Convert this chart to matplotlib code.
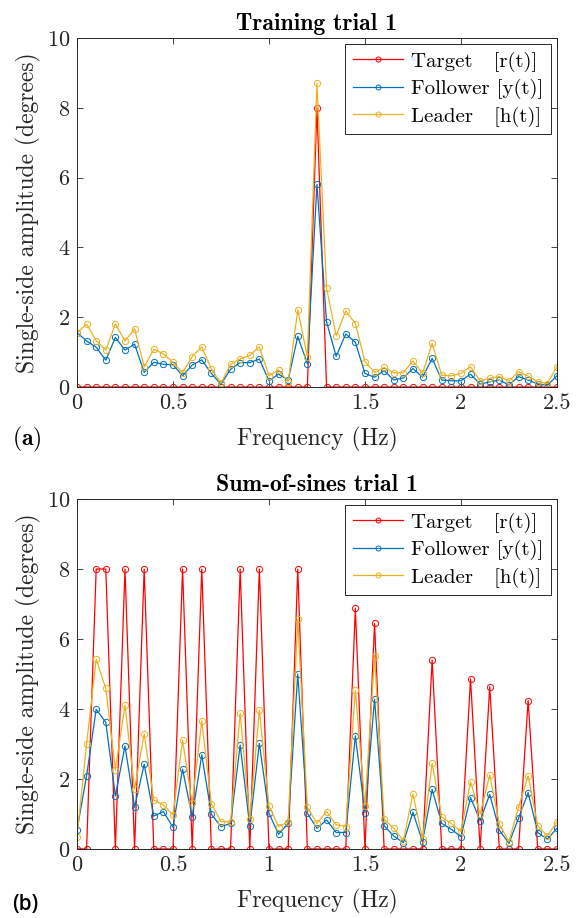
import matplotlib
matplotlib.use('Agg')
import matplotlib.pyplot as plt
import numpy as np

plt.rcParams['font.family'] = 'cmr10'
plt.rcParams['axes.formatter.use_mathtext'] = True
plt.rcParams['mathtext.fontset'] = 'cm'

freq = np.round(np.arange(51) * 0.05, 2)

# Training trial 1
train_target = [0]*25 + [8.0] + [0]*25
train_follower = [1.56, 1.32, 1.14, 0.77, 1.42, 1.06, 1.23, 0.42, 0.71, 0.65,
                  0.64, 0.32, 0.63, 0.78, 0.39, 0.08, 0.51, 0.70, 0.70, 0.80,
                  0.18, 0.37, 0.20, 1.45, 0.67, 5.81, 1.87, 0.88, 1.52, 1.28,
                  0.39, 0.28, 0.47, 0.20, 0.26, 0.53, 0.28, 0.82, 0.20, 0.18,
                  0.18, 0.37, 0.08, 0.15, 0.20, 0.06, 0.30, 0.20, 0.09, 0.05,
                  0.32]
train_leader = [1.56, 1.80, 1.33, 1.06, 1.81, 1.32, 1.67, 0.58, 1.08, 0.95,
                0.71, 0.41, 0.87, 1.15, 0.52, 0.11, 0.65, 0.80, 0.91, 1.15,
                0.32, 0.49, 0.15, 2.21, 0.87, 8.70, 2.83, 1.47, 2.18, 1.82,
                0.73, 0.42, 0.56, 0.41, 0.41, 0.75, 0.39, 1.25, 0.34, 0.32,
                0.39, 0.58, 0.18, 0.25, 0.30, 0.17, 0.44, 0.31, 0.15, 0.10,
                0.58]

# Sum-of-sines trial 1
sos_target = [0, 0, 8, 8, 0, 8, 0, 8, 0, 0,
              0, 8, 0, 8, 0, 0, 0, 8, 0, 8,
              0, 0, 0, 8, 0, 0, 0, 0, 0, 6.88,
              0, 6.45, 0, 0, 0, 0, 0, 5.40, 0, 0,
              0, 4.86, 0, 4.64, 0, 0, 0, 4.24, 0, 0,
              0]
sos_follower = [0.54, 2.09, 3.99, 3.62, 1.52, 2.94, 1.19, 2.42, 0.94, 1.07,
                0.62, 2.28, 0.92, 2.69, 0.99, 0.64, 0.73, 2.97, 0.66, 3.02,
                1.02, 0.42, 0.73, 5.00, 1.02, 0.59, 0.83, 0.47, 0.47, 3.23,
                1.04, 4.28, 0.66, 0.37, 0.18, 1.05, 0.21, 1.70, 0.73, 0.56,
                0.35, 1.47, 0.81, 1.56, 0.54, 0.16, 0.88, 1.61, 0.47, 0.28,
                0.59]
sos_leader = [0.35, 3.00, 5.42, 4.59, 2.26, 4.11, 1.71, 3.29, 1.40, 1.26,
              0.97, 3.11, 1.30, 3.66, 1.29, 0.78, 0.78, 3.88, 0.85, 3.97,
              1.23, 0.64, 0.78, 6.56, 1.19, 0.73, 1.07, 0.69, 0.64, 4.54,
              1.23, 5.52, 0.85, 0.59, 0.24, 1.57, 0.28, 2.45, 0.91, 0.73,
              0.50, 1.92, 1.00, 2.11, 0.71, 0.21, 1.19, 2.09, 0.66, 0.37,
              0.78]

red = '#FF0000'
blue = '#0072BD'
gold = '#EDB120'
dark = '#262626'

fig = plt.figure(figsize=(5.85, 9.18), dpi=100)
ax1 = fig.add_axes([0.1316, 0.5784, 0.8204, 0.3802])
ax2 = fig.add_axes([0.1316, 0.0752, 0.8204, 0.3812])


def draw(ax, target, follower, leader, title):
    kw = dict(marker='o', markersize=4.5, markerfacecolor='none',
              linewidth=0.9, markeredgewidth=0.7)
    ax.plot(freq, target, color=red, label='Target   [r(t)]', **kw)
    ax.plot(freq, follower, color=blue, label='Follower [y(t)]', **kw)
    ax.plot(freq, leader, color=gold, label='Leader   [h(t)]', **kw)
    ax.set_xlim(0, 2.5)
    ax.set_ylim(0, 10)
    ax.set_xticks([0, 0.5, 1, 1.5, 2, 2.5])
    ax.set_xticklabels(['0', '0.5', '1', '1.5', '2', '2.5'])
    ax.set_yticks([0, 2, 4, 6, 8, 10])
    ax.tick_params(direction='in', top=True, right=True, labelsize=16,
                   colors=dark, length=4, width=0.6, pad=5)
    for s in ax.spines.values():
        s.set_color(dark)
        s.set_linewidth(0.7)
    ax.set_xlabel('Frequency (Hz)', fontsize=17, color=dark, labelpad=10)
    ax.set_ylabel('Single-side amplitude (degrees)', fontsize=17,
                  color=dark, labelpad=4)
    ax.set_title(title, fontsize=17, fontfamily='cmb10', pad=6)
    leg = ax.legend(loc='upper right', fontsize=15, handlelength=2.4,
                    fancybox=False, framealpha=1, edgecolor=dark,
                    borderpad=0.35, labelspacing=0.35, handletextpad=0.4,
                    borderaxespad=0.3, markerscale=0.8)
    leg.get_frame().set_linewidth(0.7)


draw(ax1, train_target, train_follower, train_leader, 'Training trial 1')
draw(ax2, sos_target, sos_follower, sos_leader, 'Sum-of-sines trial 1')

fig.text(0.02, 0.521, r'$\mathbf{(a)}$', fontsize=17, va='center')
fig.text(0.02, 0.015, '(b)', fontsize=15, fontfamily='Open Sans',
         fontweight='semibold', va='center')

fig.savefig('out.png', dpi=100)
